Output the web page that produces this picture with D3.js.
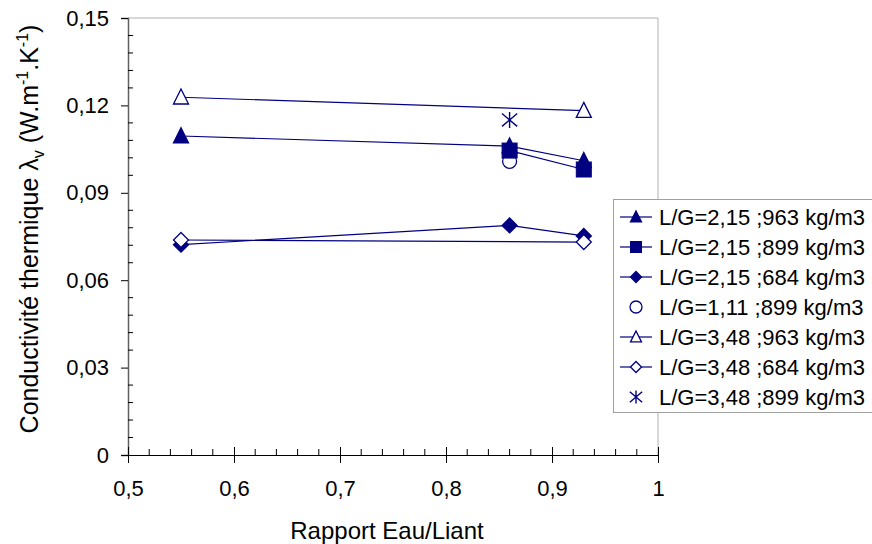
<!DOCTYPE html>
<html>
<head>
<meta charset="utf-8">
<script src="https://cdn.jsdelivr.net/npm/d3@7"></script>
<style>
  html, body { margin: 0; padding: 0; background: #fff; }
  text { font-family: "Liberation Sans", Arial, sans-serif; fill: #000; }
</style>
</head>
<body>
<svg id="chart" width="872" height="544"></svg>
<script>
// ---- data ----
const xTicks = [0.5, 0.6, 0.7, 0.8, 0.9, 1.0];
const yTicks = [0, 0.03, 0.06, 0.09, 0.12, 0.15];
const seriesNames = [
  "L/G=2,15 ;963 kg/m3",
  "L/G=2,15 ;899 kg/m3",
  "L/G=2,15 ;684 kg/m3",
  "L/G=1,11 ;899 kg/m3",
  "L/G=3,48 ;963 kg/m3",
  "L/G=3,48 ;684 kg/m3",
  "L/G=3,48 ;899 kg/m3"
];
const s1x = [0.55, 0.86, 0.93], s1y = [0.1095, 0.1060, 0.1010];
const s2x = [0.86, 0.93],       s2y = [0.1045, 0.0980];
const s3x = [0.55, 0.86, 0.93], s3y = [0.0722, 0.0788, 0.0752];
const s4x = [0.86],             s4y = [0.1008];
const s5x = [0.55, 0.93],       s5y = [0.1228, 0.1182];
const s6x = [0.55, 0.93],       s6y = [0.0738, 0.0731];
const s7x = [0.86],             s7y = [0.1150];

const series = [
  {name: seriesNames[0], xs: s1x, ys: s1y, sym: "tri",  fill: true,  line: true},
  {name: seriesNames[1], xs: s2x, ys: s2y, sym: "sq",   fill: true,  line: true},
  {name: seriesNames[2], xs: s3x, ys: s3y, sym: "dia",  fill: true,  line: true},
  {name: seriesNames[3], xs: s4x, ys: s4y, sym: "circ", fill: false, line: false},
  {name: seriesNames[4], xs: s5x, ys: s5y, sym: "tri",  fill: false, line: true},
  {name: seriesNames[5], xs: s6x, ys: s6y, sym: "dia",  fill: false, line: true},
  {name: seriesNames[6], xs: s7x, ys: s7y, sym: "star", fill: false, line: false}
];
const drawOrder = [0, 3, 1, 2, 4, 5, 6];

const navy = "#000080";
const svg = d3.select("#chart");
const x = d3.scaleLinear().domain([0.5, 1]).range([128, 658]);
const y = d3.scaleLinear().domain([0, 0.15]).range([455, 18]);
const fmt = v => (v === 0 ? "0" : (v === 1 ? "1" : String(+v.toFixed(2)).replace(".", ",")));

// plot frame (top/right grey)
svg.append("path")
  .attr("d", `M${x(0.5)},${y(0.15)}H${x(1)}V${y(0)}`)
  .attr("fill", "none").attr("stroke", "#b0b0b0").attr("stroke-width", 1);

// y axis
const gy = svg.append("g").attr("transform", `translate(${x(0.5)},0)`)
  .call(d3.axisLeft(y).tickValues(yTicks).tickSize(7).tickPadding(12).tickFormat(fmt));
gy.select(".domain").attr("stroke", "#606060").attr("stroke-width", 1.5);
gy.selectAll(".tick line").attr("stroke", "#000");
gy.selectAll(".tick text").style("font-size", "22px").style("font-family", "Liberation Sans, Arial");
const yMinor = d3.range(0, 0.1501, 0.006).filter(v => yTicks.every(t => Math.abs(t - v) > 1e-6));
gy.selectAll(".minor").data(yMinor).enter().append("line")
  .attr("x1", 0).attr("x2", 5).attr("y1", d => y(d)).attr("y2", d => y(d))
  .attr("stroke", "#000");

// x axis
const gx = svg.append("g").attr("transform", `translate(0,${y(0)})`)
  .call(d3.axisBottom(x).tickValues(xTicks).tickSize(8).tickPadding(17).tickFormat(fmt));
gx.select(".domain").attr("stroke", "#000").attr("stroke-width", 1);
gx.selectAll(".tick line").attr("y1", -8).attr("stroke", "#000");
gx.selectAll(".tick text").style("font-size", "22px").style("font-family", "Liberation Sans, Arial");
const xMinor = d3.range(0.5, 1.0001, 0.02).filter(v => xTicks.every(t => Math.abs(t - v) > 1e-6));
gx.selectAll(".minor").data(xMinor).enter().append("line")
  .attr("x1", d => x(d)).attr("x2", d => x(d)).attr("y1", 0).attr("y2", -6)
  .attr("stroke", "#000");

// axis titles
svg.append("text").attr("x", 387).attr("y", 539).attr("text-anchor", "middle")
  .style("font-size", "24px").text("Rapport Eau/Liant");
const yt = svg.append("text").attr("transform", "translate(38,229) rotate(-90)")
  .attr("text-anchor", "middle").style("font-size", "25px");
yt.append("tspan").text("Conductivité thermique λ");
yt.append("tspan").attr("dy", 6).style("font-size", "16px").text("v");
yt.append("tspan").attr("dy", -6).text(" (W.m");
yt.append("tspan").attr("dy", -10).style("font-size", "16px").text("-1");
yt.append("tspan").attr("dy", 10).text(".K");
yt.append("tspan").attr("dy", -10).style("font-size", "16px").text("-1");
yt.append("tspan").attr("dy", 10).text(")");

// symbol drawing
function drawSym(g, sym, fill, cx, cy, s) {
  const f = fill ? navy : "#fff";
  if (sym === "tri") {
    g.append("path").attr("d", `M${cx},${cy - s * 0.55}L${cx + s / 2},${cy + s * 0.45}L${cx - s / 2},${cy + s * 0.45}Z`)
      .attr("fill", f).attr("stroke", navy).attr("stroke-width", 1.3);
  } else if (sym === "sq") {
    g.append("rect").attr("x", cx - s / 2).attr("y", cy - s / 2).attr("width", s).attr("height", s)
      .attr("fill", f).attr("stroke", navy).attr("stroke-width", 1);
  } else if (sym === "dia") {
    const h = s / 2;
    g.append("path").attr("d", `M${cx},${cy - h}L${cx + h},${cy}L${cx},${cy + h}L${cx - h},${cy}Z`)
      .attr("fill", f).attr("stroke", navy).attr("stroke-width", 1.3);
  } else if (sym === "circ") {
    g.append("circle").attr("cx", cx).attr("cy", cy).attr("r", s / 2)
      .attr("fill", f).attr("stroke", navy).attr("stroke-width", 1.3);
  } else if (sym === "star") {
    const h = s / 2, d = h * 0.95;
    g.append("path").attr("d",
      `M${cx},${cy - h}V${cy + h}M${cx - d},${cy - h * 0.8}L${cx + d},${cy + h * 0.8}M${cx - d},${cy + h * 0.8}L${cx + d},${cy - h * 0.8}`)
      .attr("fill", "none").attr("stroke", navy).attr("stroke-width", 1.4);
  }
}
const symSize = {tri: 15, sq: 15, dia: 15, circ: 14, star: 16};

// lines
const line = d3.line().x(d => x(d[0])).y(d => y(d[1]));
series.forEach(s => {
  if (!s.line) return;
  svg.append("path").datum(s.xs.map((v, i) => [v, s.ys[i]]))
    .attr("d", line).attr("fill", "none").attr("stroke", navy).attr("stroke-width", 1.2);
});
// markers
const gm = svg.append("g");
drawOrder.forEach(i => {
  const s = series[i];
  s.xs.forEach((v, j) => drawSym(gm, s.sym, s.fill, x(v), y(s.ys[j]), symSize[s.sym]));
});

// legend
const lg = svg.append("g");
lg.append("rect").attr("x", 613.5).attr("y", 199.5).attr("width", 270).attr("height", 213)
  .attr("fill", "#fff").attr("stroke", "#a0a0a0").attr("stroke-width", 1);
series.forEach((s, i) => {
  const cy = 217 + i * 30;
  if (s.line) lg.append("line").attr("x1", 620).attr("x2", 652).attr("y1", cy).attr("y2", cy)
    .attr("stroke", navy).attr("stroke-width", 1.2);
  drawSym(lg, s.sym, s.fill, 636, cy, s.sym === "circ" ? 12 : (s.sym === "star" ? 13 : 11));
  lg.append("text").attr("x", 659).attr("y", cy + 8).style("font-size", "22px").text(s.name);
});
</script>
</body>
</html>
